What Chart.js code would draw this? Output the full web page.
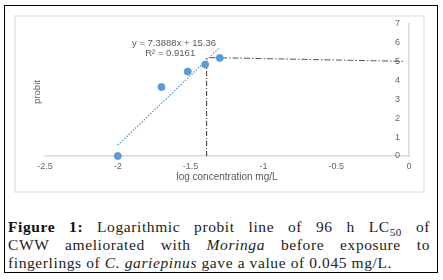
<!DOCTYPE html>
<html>
<head>
<meta charset="utf-8">
<script src="https://cdn.jsdelivr.net/npm/chart.js@4.4.1/dist/chart.umd.min.js"></script>
<style>
  body { margin: 0; background: #fff; }
  #frame {
    position: absolute; left: 4px; top: 5px; width: 434px; height: 268px;
    box-sizing: border-box; border: 1.5px solid #000;
  }
  #plotBorder {
    position: absolute; left: 14px; top: 15px; width: 411px; height: 178px;
    box-sizing: border-box; border: 2px solid #ebebeb;
  }
  #plotWrap { position: absolute; left: 14px; top: 15px; width: 411px; height: 178px; }
  #caption {
    position: absolute; left: 8px; top: 218px; width: 422px;
    font-family: "Liberation Serif", "DejaVu Serif", serif;
    font-size: 15.5px; line-height: 18px; color: #222; letter-spacing: 0.6px;
  }
  #caption .just { text-align: justify; text-align-last: justify; }
  #caption b { color: #111; }
  #caption sub { font-size: 0.72em; line-height: 0; }
</style>
</head>
<body>
<div id="frame"></div>
<div id="plotBorder"></div>
<div id="plotWrap"><canvas id="probitChart"></canvas></div>
<div id="caption">
  <div class="just"><b>Figure 1:</b> Logarithmic probit line of 96 h LC<sub>50</sub> of</div>
  <div class="just">CWW ameliorated with <i>Moringa</i> before exposure to</div>
  <div>fingerlings of <i>C. gariepinus</i> gave a value of 0.045 mg/L.</div>
</div>
<script>
// observed points (log concentration vs probit)
const logConc = [-2, -1.7, -1.52, -1.4, -1.3];
const probit = [0, 3.66, 4.48, 4.85, 5.2];

// linear trendline ends
const trendX = [-2, -1.3];
const trendY = [0.58, 5.75];

// LC50 guide lines (dash-dot)
const guideVX = [-1.39, -1.39];
const guideVY = [0, 5.2];
const guideHX = [-1.37, -0.04];
const guideHY = [5.22, 5.02];

const xTicks = [-2.5, -2, -1.5, -1, -0.5, 0];
const yTicks = [0, 1, 2, 3, 4, 5, 6, 7];

const equationText = 'y = 7.3888x + 15.36';
const r2Text = 'R\u00B2 = 0.9161';

function toPoints(xs, ys) {
    return xs.map((v, i) => ({ x: v, y: ys[i] }));
}

// equation + left side "probit" title
const textLabels = {
    id: 'textLabels',
    afterDatasetsDraw(chart) {
        const { ctx, chartArea, scales } = chart;
        const x = scales.x, y = scales.y;
        ctx.save();
        ctx.fillStyle = '#595959';
        ctx.font = '9.5px "Liberation Sans", Arial, sans-serif';
        ctx.textAlign = 'center';
        ctx.textBaseline = 'middle';
        ctx.fillText(equationText, x.getPixelForValue(-1.614), y.getPixelForValue(5.99));
        ctx.fillText(r2Text, x.getPixelForValue(-1.64), y.getPixelForValue(5.46));

        ctx.translate(chartArea.left - 8, (chartArea.top + chartArea.bottom) / 2 + 2);
        ctx.rotate(-Math.PI / 2);
        ctx.fillText('probit', 0, 0);
        ctx.restore();
    }
};

const ctx = document.getElementById('probitChart').getContext('2d');
new Chart(ctx, {
    type: 'scatter',
    data: {
        datasets: [
            {
                label: 'probit',
                data: toPoints(logConc, probit),
                backgroundColor: '#5b9bd5',
                borderColor: '#5b9bd5',
                pointRadius: 3.5,
                clip: false
            },
            {
                label: 'Linear (probit)',
                data: toPoints(trendX, trendY),
                showLine: true,
                borderColor: '#5b9bd5',
                borderWidth: 1.3,
                borderDash: [1.5, 1.5],
                pointRadius: 0,
                clip: false
            },
            {
                label: 'LC50 vertical',
                data: toPoints(guideVX, guideVY),
                showLine: true,
                borderColor: '#333',
                borderWidth: 1,
                borderDash: [5, 2, 1, 2],
                pointRadius: 0
            },
            {
                label: 'LC50 horizontal',
                data: toPoints(guideHX, guideHY),
                showLine: true,
                borderColor: '#555',
                borderWidth: 1,
                borderDash: [6, 2, 1.5, 2],
                pointRadius: 0
            }
        ]
    },
    options: {
        responsive: true,
        maintainAspectRatio: false,
        animation: false,
        layout: {
            padding: { left: 31, right: 16, top: 9, bottom: 0 }
        },
        scales: {
            x: {
                type: 'linear',
                position: 'bottom',
                min: -2.5,
                max: 0,
                afterBuildTicks: function(scale) {
                    scale.ticks = xTicks.map(v => ({ value: v }));
                },
                afterFit: function(scale) {
                    scale.height = 37;
                },
                grid: { display: false, drawTicks: false },
                border: { color: '#d9d9d9', width: 1.5 },
                ticks: {
                    color: '#666',
                    padding: 5,
                    font: { family: '"Liberation Sans", Arial, sans-serif', size: 9 },
                    callback: function(value) {
                        return String(value);
                    }
                },
                title: {
                    display: true,
                    text: 'log concentration mg/L',
                    color: '#595959',
                    padding: { top: 0, bottom: 10 },
                    font: { family: '"Liberation Sans", Arial, sans-serif', size: 10 }
                }
            },
            y: {
                type: 'linear',
                position: 'right',
                min: 0,
                max: 7,
                afterBuildTicks: function(scale) {
                    scale.ticks = yTicks.map(v => ({ value: v }));
                },
                afterFit: function(scale) {
                    scale.width = 0;
                },
                grid: { display: false, drawTicks: false },
                border: { color: '#d9d9d9', width: 1.5 },
                ticks: {
                    mirror: true,
                    padding: -9,
                    color: '#666',
                    font: { family: '"Liberation Sans", Arial, sans-serif', size: 9 }
                }
            }
        },
        plugins: {
            legend: { display: false },
            tooltip: { enabled: false }
        }
    },
    plugins: [textLabels]
});
</script>
</body>
</html>
